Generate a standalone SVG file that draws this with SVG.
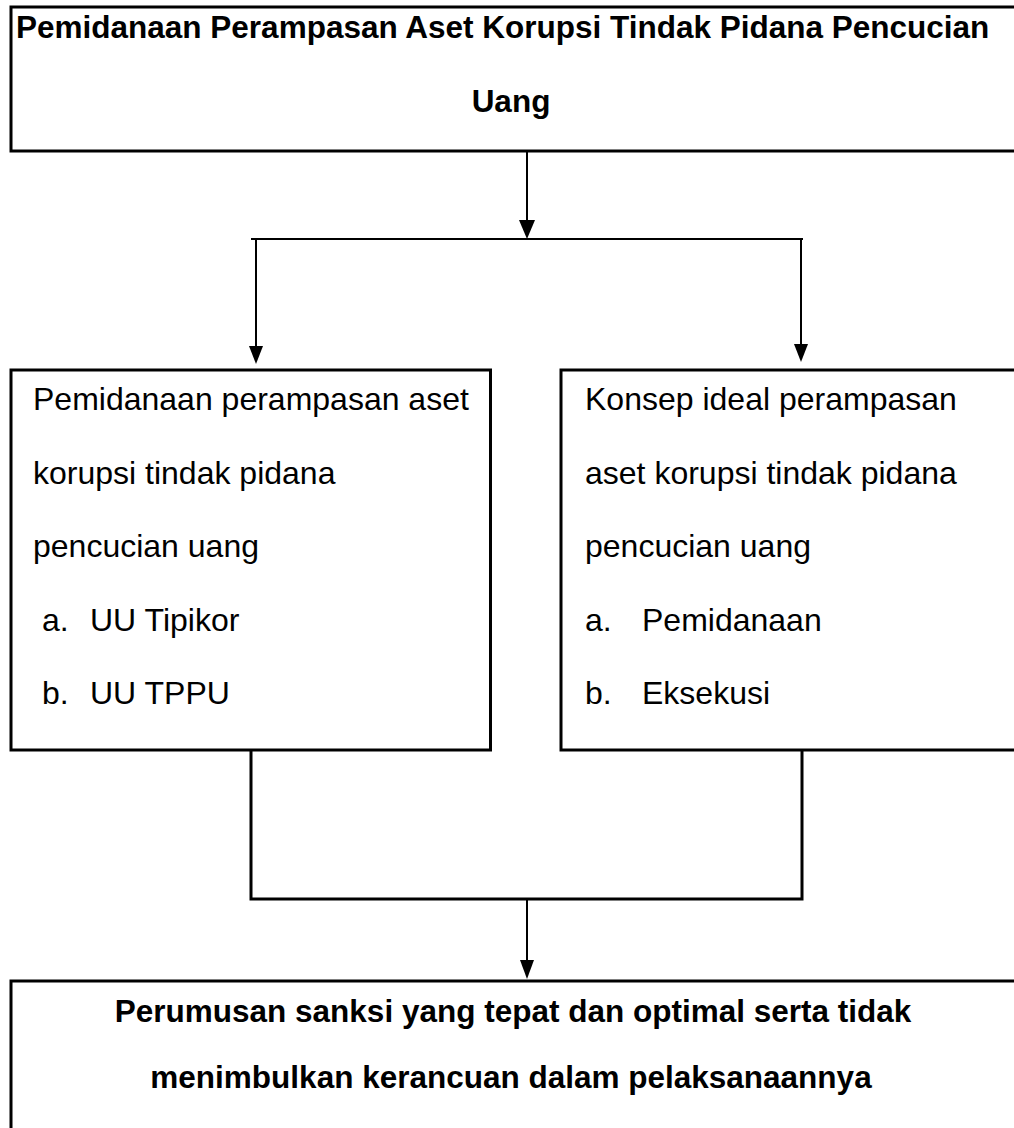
<svg xmlns="http://www.w3.org/2000/svg" width="1014" height="1128" viewBox="0 0 1014 1128">
<style>
  .box { fill: #ffffff; stroke: #000000; stroke-width: 3; }
  .title { font-family: "Liberation Sans", Arial, sans-serif; font-weight: bold; font-size: 31.5px; fill: #000000; }
  .body { font-family: "Liberation Sans", Arial, sans-serif; font-size: 32px; fill: #000000; }
  .conn { fill: none; stroke: #000000; stroke-width: 2; }
  .merge { fill: none; stroke: #000000; stroke-width: 3; }
  .head { fill: #000000; stroke: none; }
</style>
<rect x="0" y="0" width="1014" height="1128" fill="#ffffff"/>

<g id="node-top">
  <rect class="box" x="11" y="7" width="1020" height="144"/>
  <text class="title" x="16" y="38">Pemidanaan Perampasan Aset Korupsi Tindak Pidana Pencucian</text>
  <text class="title" x="511" y="112" text-anchor="middle">Uang</text>
</g>

<g id="node-left">
  <rect class="box" x="11" y="370" width="479.5" height="380"/>
  <text class="body" x="33" y="410">Pemidanaan perampasan aset</text>
  <text class="body" x="33" y="483.5">korupsi tindak pidana</text>
  <text class="body" x="33" y="557">pencucian uang</text>
  <text class="body" x="42" y="630.5">a.</text>
  <text class="body" x="90" y="630.5">UU Tipikor</text>
  <text class="body" x="42" y="704">b.</text>
  <text class="body" x="90" y="704">UU TPPU</text>
</g>

<g id="node-right">
  <rect class="box" x="561" y="370" width="470" height="380"/>
  <text class="body" x="585" y="410">Konsep ideal perampasan</text>
  <text class="body" x="585" y="483.5">aset korupsi tindak pidana</text>
  <text class="body" x="585" y="557">pencucian uang</text>
  <text class="body" x="585" y="630.5">a.</text>
  <text class="body" x="642" y="630.5">Pemidanaan</text>
  <text class="body" x="585" y="704">b.</text>
  <text class="body" x="642" y="704">Eksekusi</text>
</g>

<g id="node-bottom">
  <rect class="box" x="11" y="981" width="1020" height="160"/>
  <text class="title" x="513" y="1022" text-anchor="middle">Perumusan sanksi yang tepat dan optimal serta tidak</text>
  <text class="title" x="511" y="1088" text-anchor="middle">menimbulkan kerancuan dalam pelaksanaannya</text>
</g>

<g id="connectors">
  <line class="conn" x1="527" y1="151" x2="527" y2="222"/>
  <polygon class="head" points="519,220 535,220 527,239"/>
  <line class="conn" x1="251" y1="239" x2="803" y2="239"/>
  <line class="conn" x1="256" y1="239" x2="256" y2="348"/>
  <polygon class="head" points="249,346 263,346 256,364"/>
  <line class="conn" x1="801" y1="239" x2="801" y2="346"/>
  <polygon class="head" points="794,344 808,344 801,362"/>
  <polyline class="merge" points="251,750 251,899 802,899 802,750"/>
  <line class="conn" x1="527" y1="899" x2="527" y2="962"/>
  <polygon class="head" points="520,960 534,960 527,979"/>
</g>
</svg>
